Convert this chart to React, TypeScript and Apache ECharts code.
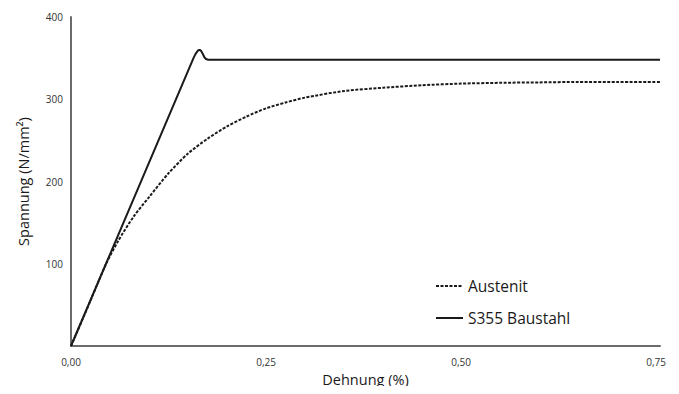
import React, { useEffect, useRef } from "react";
import * as echarts from "echarts";

const austenitX = [0, 0.02, 0.045, 0.06, 0.08, 0.1, 0.125, 0.15, 0.175, 0.2, 0.225, 0.25, 0.275, 0.3, 0.35, 0.4, 0.45, 0.5, 0.55, 0.6, 0.65, 0.7, 0.755];
const austenitY = [0, 44, 100, 127, 157, 181, 210, 234, 252, 267, 279, 289, 296, 302, 310, 314, 317, 319, 320, 320.5, 321, 321, 321];
const s355X = [0, 0.157, 0.159, 0.161, 0.163, 0.165, 0.167, 0.169, 0.171, 0.173, 0.176, 0.2, 0.755];
const s355Y = [0, 350, 354, 357, 359.5, 360, 358.5, 355, 351, 349, 348, 348, 348];
const xTicks = [0, 0.25, 0.5, 0.75];
const seriesNames = ["Austenit", "S355 Baustahl"];

const FONT = "'Open Sans', 'Noto Sans', sans-serif";

export default function App() {
  const ref = useRef<HTMLDivElement>(null);
  useEffect(() => {
    if (!ref.current) return;
    const chart = echarts.init(ref.current, null, { renderer: "svg" });
    const axisLine = { show: true, lineStyle: { color: "#6b6b6b", width: 2 } };
    chart.setOption({
      animation: false,
      backgroundColor: "#ffffff",
      grid: { left: 71, right: 19, top: 17, bottom: 48 },
      legend: {
        orient: "vertical",
        left: 430,
        top: 273,
        itemWidth: 27,
        itemHeight: 14,
        itemGap: 16,
        itemStyle: { color: "transparent", borderWidth: 0, opacity: 0 },
        textStyle: { fontFamily: FONT, fontSize: 15.5, color: "#1a1a1a" },
        data: seriesNames,
      },
      xAxis: {
        type: "value",
        min: 0,
        max: 0.755,
        interval: 0.25,
        name: "Dehnung (%)",
        nameLocation: "middle",
        nameGap: 23,
        nameTextStyle: { fontFamily: FONT, fontSize: 14.5, color: "#1a1a1a" },
        axisLine,
        axisTick: { show: false },
        splitLine: { show: false },
        axisLabel: {
          margin: 11,
          fontFamily: FONT,
          fontSize: 10,
          color: "#333",
          formatter: (v: number) =>
            xTicks.some((t) => Math.abs(t - v) < 1e-6) ? v.toFixed(2).replace(".", ",") : "",
        },
      },
      yAxis: {
        type: "value",
        min: 0,
        max: 400,
        interval: 100,
        name: "Spannung (N/mm²)",
        nameLocation: "middle",
        nameGap: 40,
        nameTextStyle: { fontFamily: FONT, fontSize: 14.5, color: "#1a1a1a" },
        axisLine,
        axisTick: { show: false },
        splitLine: { show: false },
        axisLabel: {
          margin: 8,
          fontFamily: FONT,
          fontSize: 10,
          color: "#333",
          formatter: (v: number) => (v === 0 ? "" : String(v)),
        },
      },
      series: [
        {
          name: seriesNames[0],
          type: "line",
          symbol: "none",
          smooth: 0.25,
          data: austenitX.map((x, i) => [x, austenitY[i]]),
          lineStyle: { color: "#1a1a1a", width: 2, type: [3, 1.5] },
          itemStyle: { color: "#1a1a1a" },
          z: 2,
        },
        {
          name: seriesNames[1],
          type: "line",
          symbol: "none",
          smooth: false,
          data: s355X.map((x, i) => [x, s355Y[i]]),
          lineStyle: { color: "#1a1a1a", width: 2 },
          itemStyle: { color: "#1a1a1a" },
          z: 3,
        },
      ],
    });
    return () => chart.dispose();
  }, []);
  return <div ref={ref} style={{ width: 679, height: 394, margin: -8 }} />;
}
